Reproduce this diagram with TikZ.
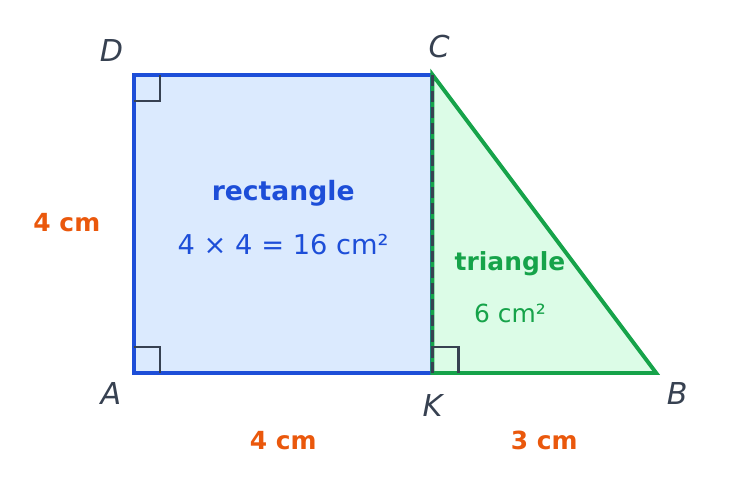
\documentclass[tikz,border=0pt]{standalone}
\usepackage{fontspec}
\setmainfont{DejaVu Sans}
\definecolor{rectblue}{HTML}{1D4ED8}
\definecolor{rectfill}{HTML}{DBEAFE}
\definecolor{trigreen}{HTML}{16A34A}
\definecolor{trifill}{HTML}{DCFCE7}
\definecolor{lenorange}{HTML}{EA580C}
\definecolor{markgray}{HTML}{374151}
\tikzset{
  vertex/.style={text=markgray, font=\fontsize{11.5}{13}\selectfont\itshape},
  length/.style={text=lenorange, font=\fontsize{9.5}{12}\selectfont\bfseries},
  rightmark/.style={draw=markgray, line width=0.9pt},
}
\begin{document}
\begin{tikzpicture}

    \useasboundingbox (-1.796,-1.595) rectangle (8.19,5.0);

    % Corners
    \coordinate (A) at (0,0);
    \coordinate (K) at (4,0);
    \coordinate (B) at (7.0,0);
    \coordinate (C) at (4,4);
    \coordinate (D) at (0,4);

    % Left: rectangle
    \fill[rectfill] (A) rectangle (C);
    \fill[trifill] (K) -- (B) -- (C) -- cycle;
    \draw[rectblue, line width=1.5pt] (A) rectangle (C);
    \draw[trigreen, line width=1.5pt, line join=miter] (K) -- (B) -- (C) -- cycle;
    \draw[markgray, line width=1.2pt, dash pattern=on 4.5pt off 1.6pt] (C) -- (K);

    % Right angles
    \draw[rightmark] (0,0.35) -- (0.35,0.35) -- (0.35,0);
    \draw[rightmark] (0,3.65) -- (0.35,3.65) -- (0.35,4);
    \draw[rightmark] (4,0.35) -- (4.35,0.35) -- (4.35,0);

    % Vertex names
    \node[vertex] (labA) at (-0.31,-0.27) {A};
    \node[vertex] (labK) at (4,-0.43) {K};
    \node[vertex] (labB) at (7.28,-0.27) {B};
    \node[vertex] (labC) at (4.09,4.37) {C};
    \node[vertex] (labD) at (-0.30,4.32) {D};

    % Lengths
    \node[length] (side) at (-0.90,2.02) {4 cm};
    \node[length] (base) at (2,-0.90) {4 cm};
    \node[length] (rest) at (5.5,-0.90) {3 cm};

    % Areas
    \node[text=rectblue, font=\fontsize{10.15}{12}\selectfont\bfseries] (rname) at (2,2.41) {rectangle};
    \node[text=rectblue, font=\fontsize{10.4}{12}\selectfont] (rarea) at (2,1.72) {4 × 4 = 16 cm²};
    \node[text=trigreen, font=\fontsize{9.5}{12}\selectfont\bfseries] (tname) at (5.04,1.46) {triangle};
    \node[text=trigreen, font=\fontsize{9.5}{12}\selectfont] (tarea) at (5.04,0.80) {6 cm²};

\end{tikzpicture}
\end{document}
